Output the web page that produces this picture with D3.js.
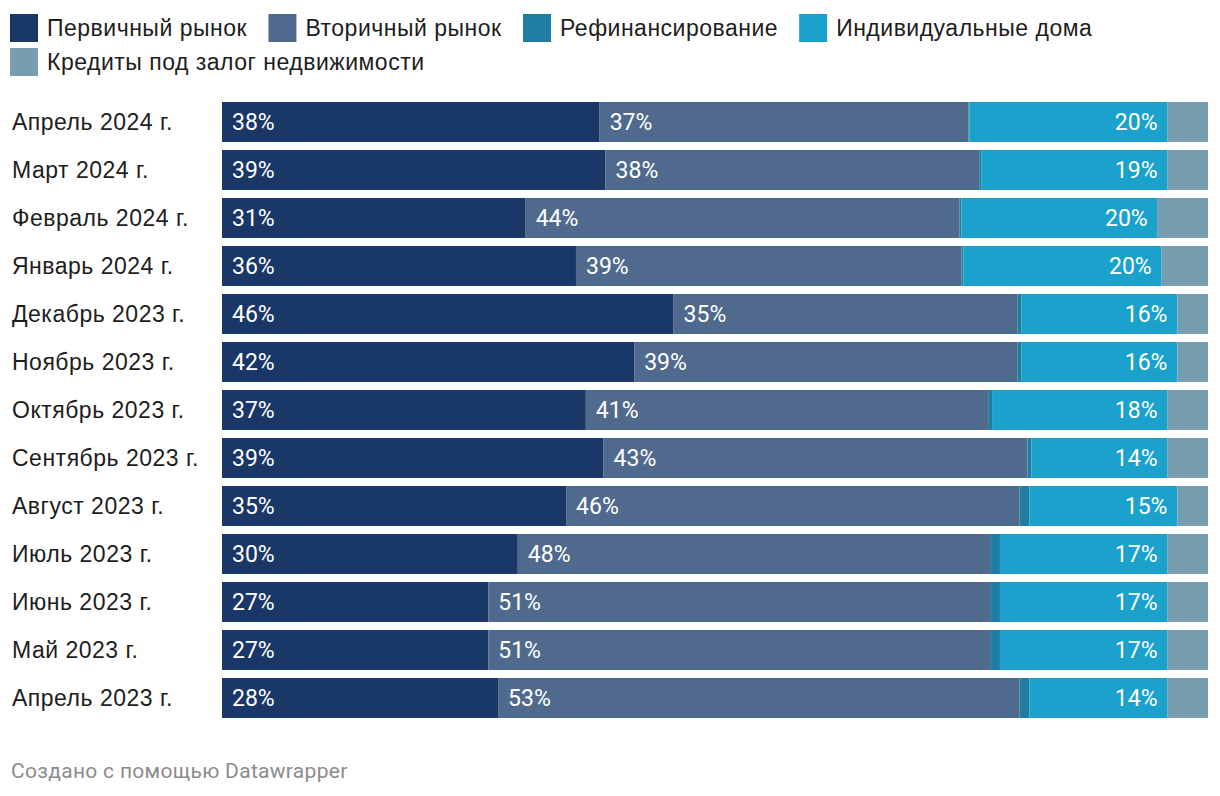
<!DOCTYPE html>
<html>
<head>
<meta charset="utf-8">
<script src="https://cdn.jsdelivr.net/npm/d3@7"></script>
<style>
  html, body { margin: 0; padding: 0; background: #fff; }
  svg { display: block; }
</style>
</head>
<body>
<svg id="chart" width="1220" height="796"></svg>
<script>
// ---- data ----
const categories = [
  "Апрель 2024 г.", "Март 2024 г.", "Февраль 2024 г.", "Январь 2024 г.",
  "Декабрь 2023 г.", "Ноябрь 2023 г.", "Октябрь 2023 г.", "Сентябрь 2023 г.",
  "Август 2023 г.", "Июль 2023 г.", "Июнь 2023 г.", "Май 2023 г.", "Апрель 2023 г."
];
const seriesNames = [
  "Первичный рынок", "Вторичный рынок", "Рефинансирование",
  "Индивидуальные дома", "Кредиты под залог недвижимости"
];
const primary     = [38.3, 38.9, 30.8, 35.9, 45.8, 41.8, 36.9, 38.7, 34.9, 30.0, 27.0, 27.0, 28.0];
const secondary   = [37.4, 37.9, 44.0, 39.1, 34.9, 38.9, 40.8, 43.0, 46.0, 47.9, 50.9, 50.9, 52.9];
const refinancing = [0.1, 0.2, 0.2, 0.2, 0.4, 0.4, 0.4, 0.4, 1.0, 1.0, 1.0, 1.0, 1.0];
const individual  = [20.1, 18.9, 19.9, 20.1, 15.8, 15.8, 17.8, 13.8, 15.0, 17.0, 17.0, 17.0, 14.0];
const loans       = [4.1, 4.1, 5.1, 4.7, 3.1, 3.1, 4.1, 4.1, 3.1, 4.1, 4.1, 4.1, 4.1];
const colors = ["#1a3867", "#506a8e", "#1f7fa2", "#1aa2cd", "#779db1"];
const footerText = "Создано с помощью Datawrapper";

// ---- build table ----
const keys = ["primary", "secondary", "refinancing", "individual", "loans"];
const seriesArrays = [primary, secondary, refinancing, individual, loans];
const table = categories.map((c, i) => {
  const row = { cat: c };
  keys.forEach((k, j) => row[k] = seriesArrays[j][i]);
  return row;
});
const stacked = d3.stack().keys(keys)(table);

const svg = d3.select("#chart");
const labelFont = "'Liberation Sans', Arial, Helvetica, sans-serif";
const valueFont = "Roboto, 'Liberation Sans', sans-serif";
const labelSize = "23px", labelSpacing = "0.5px";

const x = d3.scaleLinear().domain([0, 100]).range([222, 1208]);
const y = d3.scaleBand().domain(categories).range([102, 718])
  .paddingInner(8 / 48).paddingOuter(0);

// ---- legend ----
const legend = svg.append("g");
let lx = 10, ly = 14;
const sq = 28, gapText = 9, gapItem = 21, rowH = 34, maxX = 1208;
seriesNames.forEach((name, i) => {
  const g = legend.append("g");
  g.append("rect").attr("width", sq).attr("height", sq).attr("fill", colors[i]);
  const t = g.append("text").attr("x", sq + gapText).attr("y", sq / 2)
    .attr("dominant-baseline", "central")
    .style("font-family", labelFont).style("font-size", labelSize)
    .style("letter-spacing", labelSpacing).attr("fill", "#1d1d1d")
    .text(name);
  const w = sq + gapText + t.node().getBBox().width;
  if (lx + w > maxX && lx > 10) { lx = 10; ly += rowH; }
  g.attr("transform", `translate(${lx},${ly})`);
  lx += w + gapItem;
});

// ---- bars ----
const layers = svg.append("g").selectAll("g").data(stacked).join("g")
  .attr("fill", (d, i) => colors[i]);
layers.selectAll("rect").data(d => d).join("rect")
  .attr("x", d => x(d[0]))
  .attr("y", d => y(d.data.cat))
  .attr("width", d => x(d[1]) - x(d[0]))
  .attr("height", y.bandwidth());

// ---- category labels ----
svg.append("g").selectAll("text").data(categories).join("text")
  .attr("x", 12)
  .attr("y", d => y(d) + y.bandwidth() / 2)
  .attr("dominant-baseline", "central")
  .style("font-family", labelFont).style("font-size", labelSize)
  .style("letter-spacing", labelSpacing).attr("fill", "#1d1d1d")
  .text(d => d);

// ---- value labels ----
const labelled = [
  { idx: 0, anchor: "start" },
  { idx: 1, anchor: "start" },
  { idx: 3, anchor: "end" }
];
const vl = svg.append("g");
labelled.forEach(({ idx, anchor }) => {
  vl.selectAll(null).data(stacked[idx]).join("text")
    .attr("x", d => anchor === "start" ? x(d[0]) + 10 : x(d[1]) - 10)
    .attr("y", d => y(d.data.cat) + y.bandwidth() / 2)
    .attr("text-anchor", anchor)
    .attr("dominant-baseline", "central")
    .style("font-family", valueFont).style("font-size", "23px").attr("fill", "#ffffff")
    .text(d => Math.round(d[1] - d[0]) + "%");
});

// ---- footer ----
svg.append("text").attr("x", 11).attr("y", 778)
  .style("font-family", valueFont).style("font-size", "21px")
  .style("letter-spacing", "0.3px").attr("fill", "#8c8c8c")
  .text(footerText);
</script>
</body>
</html>
